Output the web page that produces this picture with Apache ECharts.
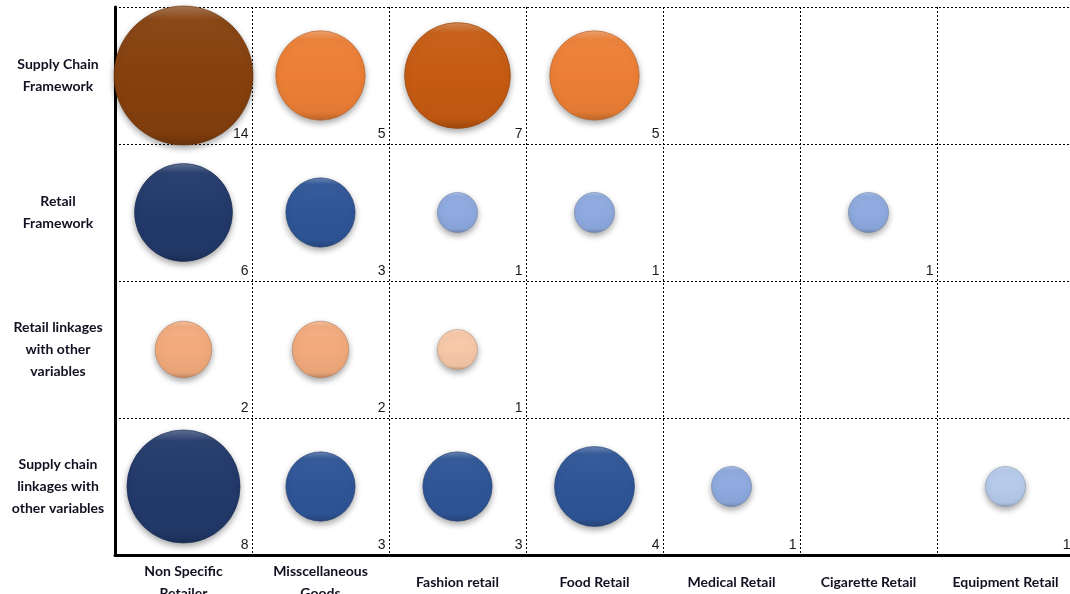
<!DOCTYPE html>
<html>
<head>
<meta charset="utf-8">
<script src="https://cdn.jsdelivr.net/npm/echarts@6/dist/echarts.min.js"></script>
<style>
  html, body { margin: 0; padding: 0; background: #fff; }
  #chart { width: 1070px; height: 594px; }
</style>
</head>
<body>
<div id="chart"></div>
<script>
// Retail sectors (columns)
const sectors = [
  'Non Specific\nRetailer', 'Misscellaneous\nGoods', 'Fashion retail',
  'Food Retail', 'Medical Retail', 'Cigarette Retail', 'Equipment Retail'
];
// Research themes (rows), listed bottom to top
const themes = [
  'Supply chain\nlinkages with\nother variables',
  'Retail linkages\nwith other\nvariables',
  'Retail\nFramework',
  'Supply Chain\nFramework'
];
// Number of studies per theme, one array per row (same order as sectors)
const supplyChainFramework   = [14, 5, 7, 5, 0, 0, 0];
const retailFramework        = [6, 3, 1, 1, 0, 1, 0];
const retailLinkages         = [2, 2, 1, 0, 0, 0, 0];
const supplyChainLinkages    = [8, 3, 3, 4, 1, 0, 1];

// Bubble fill colours per cell (rows bottom to top)
const cellColors = [
  ['#22396a', '#2f5597', '#2f5597', '#2f5597', '#8eaadf', null, '#b6caea'],
  ['#f2aa7c', '#f2aa7c', '#f7c8a8', null, null, null, null],
  ['#22396a', '#2f5597', '#8eaadf', '#8eaadf', null, '#8eaadf', null],
  ['#85400e', '#ec7f35', '#c65b12', '#ec7f35', null, null, null]
];

const rows = [supplyChainLinkages, retailLinkages, retailFramework, supplyChainFramework];

function shade(hex, amt) {
  const n = parseInt(hex.slice(1), 16);
  let r = (n >> 16) & 255, g = (n >> 8) & 255, b = n & 255;
  const f = c => Math.max(0, Math.min(255, Math.round(amt >= 0 ? c + (255 - c) * amt : c * (1 + amt))));
  return 'rgb(' + f(r) + ',' + f(g) + ',' + f(b) + ')';
}

const points = [];
rows.forEach((vals, ri) => {
  vals.forEach((v, ci) => {
    if (!v) return;
    const base = cellColors[ri][ci];
    points.push({
      value: [ci, ri, v],
      itemStyle: {
        color: {
          type: 'linear', x: 0, y: 0, x2: 0, y2: 1,
          colorStops: [
            { offset: 0, color: shade(base, 0.3) },
            { offset: 0.1, color: shade(base, 0.04) },
            { offset: 0.5, color: base },
            { offset: 0.9, color: shade(base, -0.04) },
            { offset: 1, color: shade(base, -0.2) }
          ]
        },
        borderColor: shade(base, -0.25),
        borderWidth: 0.6
      }
    });
  });
});

const chart = echarts.init(document.getElementById('chart'), null, { renderer: 'canvas' });
chart.setOption({
  backgroundColor: '#ffffff',
  animation: false,
  grid: { left: 115, top: 7, width: 959, height: 548, containLabel: false, outerBoundsMode: 'none' },
  xAxis: {
    type: 'category',
    data: sectors,
    boundaryGap: true,
    axisLine: { show: true, lineStyle: { color: '#000', width: 3 } },
    axisTick: { show: false },
    axisLabel: {
      interval: 0,
      margin: 27,
      verticalAlign: 'middle',
      lineHeight: 22,
      fontFamily: 'Lato',
      fontWeight: 'bold',
      fontSize: 14,
      color: '#111122'
    },
    splitLine: { show: true, interval: 0, lineStyle: { color: '#000', width: 1, type: [2, 2] } }
  },
  yAxis: {
    type: 'category',
    data: themes,
    boundaryGap: true,
    axisLine: { show: true, lineStyle: { color: '#000', width: 3 } },
    axisTick: { show: false },
    axisLabel: {
      interval: 0,
      margin: 57,
      align: 'center',
      lineHeight: 22,
      padding: [5, 0, 0, 0],
      fontFamily: 'Lato',
      fontWeight: 'bold',
      fontSize: 14,
      color: '#111122'
    },
    splitLine: { show: true, interval: 0, lineStyle: { color: '#000', width: 1, type: [2, 2] } }
  },
  series: [{
    type: 'scatter',
    data: points,
    symbol: 'circle',
    symbolSize: val => Math.min(40 * Math.sqrt(val[2]), 139),
    itemStyle: {
      opacity: 1,
      shadowBlur: 6,
      shadowOffsetY: 3,
      shadowColor: 'rgba(0,0,0,0.35)'
    },
    label: {
      show: true,
      position: 'inside',
      offset: [65, 59],
      align: 'right',
      verticalAlign: 'middle',
      formatter: p => String(p.value[2]),
      fontFamily: 'Liberation Sans',
      fontSize: 14,
      color: '#1a1a1a'
    },
    emphasis: { disabled: true }
  }]
});
</script>
</body>
</html>
